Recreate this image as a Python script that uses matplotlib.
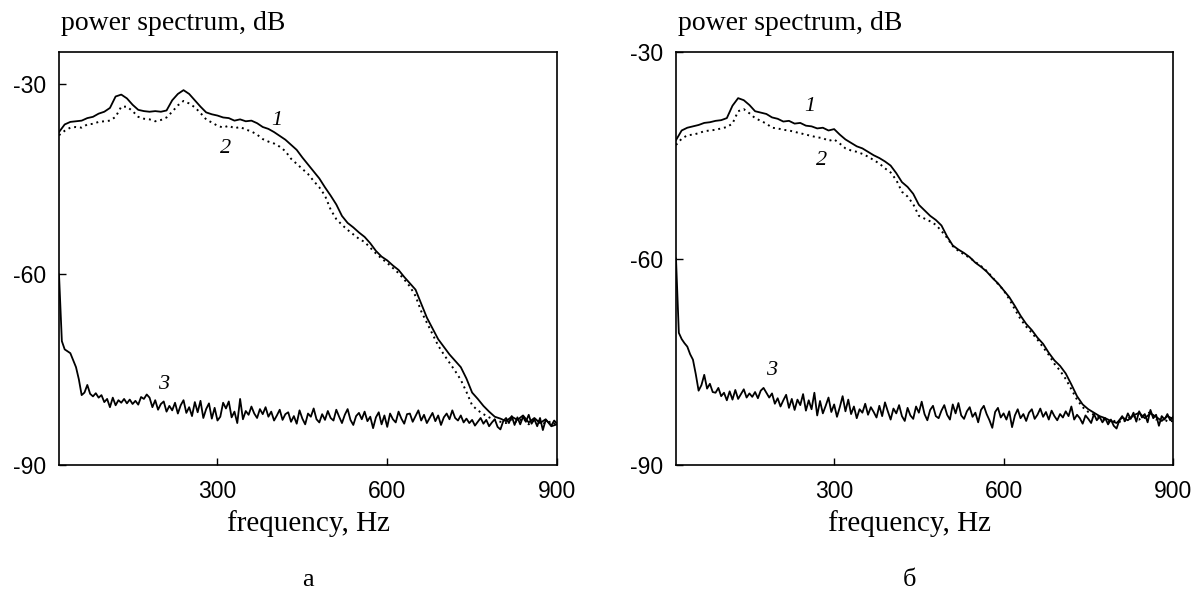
import numpy as np
import matplotlib
matplotlib.use("Agg")
import matplotlib.pyplot as plt

# Panel "a": curves 1 and 2 sampled every 10 Hz, curve 3 every 5 Hz (from 20 Hz)
a_curve1 = [-37.6, -36.4, -36.0, -35.9, -35.8, -35.4, -35.2, -34.7, -34.4, -33.8,
            -32.0, -31.7, -32.3, -33.3, -34.1, -34.3, -34.4, -34.3, -34.4, -34.2,
            -32.6, -31.6, -31.0, -31.6, -32.6, -33.6, -34.5, -34.8, -35.0, -35.3,
            -35.4, -35.8, -35.6, -35.9, -35.8, -36.2, -36.8, -37.1, -37.6, -38.2,
            -38.8, -39.6, -40.4, -41.6, -42.7, -43.8, -44.9, -46.3, -47.6, -49.0,
            -50.8, -51.9, -52.6, -53.4, -54.1, -55.1, -56.3, -57.2, -57.8, -58.6,
            -59.3, -60.4, -61.4, -62.4, -64.6, -66.8, -68.5, -70.2, -71.4, -72.6,
            -73.6, -74.6, -76.4, -78.6, -79.6, -80.7, -81.6, -82.4, -82.7, -83.1,
            -82.4, -82.9, -82.2, -83.3, -82.6, -83.4, -82.8, -83.9, -83.6]
a_curve2 = [-38.1, -37.4, -36.9, -36.8, -36.9, -36.4, -36.3, -36.0, -35.9, -35.8,
            -35.2, -33.6, -33.6, -34.3, -35.2, -35.5, -35.6, -35.9, -35.7, -35.3,
            -34.4, -33.4, -32.7, -33.1, -33.7, -34.6, -35.6, -36.1, -36.6, -36.9,
            -36.6, -37.0, -36.8, -37.2, -37.5, -38.0, -38.7, -39.1, -39.4, -39.9,
            -40.6, -41.8, -42.6, -43.4, -44.2, -45.3, -46.3, -47.6, -49.8, -51.3,
            -52.2, -53.0, -53.7, -54.4, -54.9, -55.8, -56.7, -57.5, -58.2, -59.0,
            -59.8, -60.8, -61.9, -63.4, -65.8, -67.6, -69.4, -71.2, -72.6, -73.9,
            -75.2, -76.6, -78.5, -80.6, -81.4, -82.0, -82.5, -82.9, -83.2, -83.4,
            -82.8, -83.3, -82.6, -83.6, -82.9, -83.2, -83.5, -83.1, -83.8]
a_curve3 = [-60.0, -70.5, -71.8, -72.1, -72.4, -73.5, -74.6, -76.5, -79.0, -78.6,
            -77.4, -78.8, -79.2, -78.7, -79.4, -79.0, -80.1, -79.6, -80.9, -79.4,
            -80.6, -79.8, -80.2, -79.6, -80.3, -79.7, -80.4, -79.9, -80.5, -79.3,
            -79.6, -78.9, -79.4, -80.9, -79.8, -81.3, -80.4, -80.0, -81.6, -80.7,
            -81.4, -80.2, -81.9, -80.6, -79.8, -81.8, -80.9, -82.3, -80.1, -81.7,
            -79.9, -82.6, -81.2, -80.3, -82.7, -81.0, -83.0, -82.4, -80.2, -81.1,
            -80.0, -82.5, -81.6, -83.4, -79.6, -82.8, -81.5, -82.1, -80.8, -81.9,
            -82.6, -81.2, -82.0, -80.9, -82.4, -81.6, -83.0, -82.2, -81.3, -82.9,
            -82.0, -81.7, -83.2, -82.3, -83.5, -81.4, -82.7, -83.6, -81.9, -82.4,
            -81.1, -82.8, -83.3, -82.0, -82.9, -81.5, -82.6, -83.0, -81.3, -82.4,
            -83.4, -82.1, -81.2, -82.9, -83.7, -82.3, -81.8, -82.8, -81.6, -83.1,
            -82.4, -84.2, -82.5, -81.7, -83.6, -82.2, -84.0, -81.9, -82.8, -83.3,
            -81.6, -82.7, -83.5, -82.0, -81.9, -83.2, -82.3, -81.4, -83.0, -82.1,
            -83.4, -82.6, -81.8, -83.1, -82.2, -83.7, -82.5, -81.9, -82.8, -81.4,
            -82.6, -83.0, -82.2, -83.3, -82.7, -83.4, -82.9, -83.8, -83.2, -82.6,
            -83.5, -82.9, -83.9, -83.3, -82.8, -84.0, -84.4, -83.1, -82.6, -83.4,
            -82.3, -83.7, -82.5, -83.6, -82.4, -83.2, -82.1, -83.5, -82.8, -83.9,
            -82.6, -84.5, -82.9, -83.3, -83.8, -83.0, -83.5]

# Panel "б"
b_curve1 = [-42.8, -41.4, -41.0, -40.8, -40.6, -40.3, -40.2, -40.0, -39.9, -39.6,
            -37.8, -36.7, -37.0, -37.7, -38.6, -38.8, -39.0, -39.5, -39.7, -40.1,
            -40.0, -40.4, -40.3, -40.7, -40.8, -41.1, -41.0, -41.4, -41.2, -42.0,
            -42.7, -43.2, -43.7, -44.0, -44.5, -45.0, -45.4, -45.9, -46.5, -47.6,
            -48.9, -49.6, -50.6, -52.2, -53.0, -53.8, -54.4, -55.2, -56.8, -58.1,
            -58.7, -59.2, -59.8, -60.6, -61.2, -61.9, -62.8, -63.6, -64.6, -65.6,
            -66.9, -68.3, -69.5, -70.4, -71.5, -72.4, -73.7, -74.8, -75.6, -76.7,
            -78.3, -80.0, -81.2, -81.9, -82.4, -82.9, -83.2, -83.6, -83.9, -83.1,
            -83.5, -82.8, -82.4, -83.2, -82.5, -83.0, -83.6, -82.9, -83.3]
b_curve2 = [-43.5, -42.6, -42.1, -42.0, -41.8, -41.5, -41.4, -41.3, -41.1, -40.9,
            -40.4, -38.6, -38.3, -38.9, -39.6, -40.0, -40.4, -41.0, -41.1, -41.3,
            -41.4, -41.6, -41.8, -42.0, -42.2, -42.4, -42.5, -42.9, -42.7, -43.3,
            -44.0, -44.3, -44.5, -44.8, -45.2, -45.7, -46.2, -46.9, -47.5, -48.6,
            -50.3, -51.0, -52.1, -53.8, -54.2, -54.6, -55.1, -56.0, -57.0, -58.2,
            -58.9, -59.4, -59.9, -60.5, -61.1, -61.8, -62.7, -63.7, -64.6, -65.9,
            -67.4, -68.8, -69.9, -70.8, -71.8, -72.9, -74.0, -75.3, -76.3, -77.5,
            -79.0, -80.5, -81.6, -82.3, -82.7, -83.1, -83.4, -83.8, -83.5, -83.9,
            -83.2, -82.9, -83.4, -82.7, -82.3, -83.4, -83.0, -83.7, -83.6]
b_curve3 = [-60.0, -70.8, -71.7, -72.3, -72.8, -73.9, -74.7, -76.8, -79.2, -78.4,
            -76.9, -78.9, -78.2, -79.4, -79.5, -78.8, -80.0, -79.5, -80.6, -79.3,
            -80.5, -79.1, -80.4, -79.7, -79.0, -80.2, -79.6, -80.1, -79.4, -80.3,
            -79.2, -78.8, -79.5, -80.2, -79.6, -81.1, -80.3, -81.5, -80.6, -79.8,
            -81.7, -80.4, -82.0, -80.5, -81.3, -79.7, -82.1, -80.6, -81.9, -79.5,
            -82.8, -80.7, -82.5, -81.4, -80.2, -82.3, -81.2, -83.0, -81.6, -80.0,
            -82.2, -80.5, -82.6, -81.5, -83.2, -81.9, -82.4, -81.1, -82.7, -81.6,
            -82.3, -83.1, -81.4, -82.9, -80.9, -82.2, -83.4, -81.8, -82.5, -81.3,
            -82.9, -83.6, -81.7, -82.8, -83.3, -81.5, -82.4, -80.8, -82.6, -83.5,
            -82.0, -81.4, -82.9, -83.2, -82.1, -81.3, -82.7, -83.4, -81.2, -82.5,
            -81.0, -82.8, -83.3, -82.2, -81.6, -83.0, -82.4, -83.8, -82.0, -81.4,
            -82.6, -83.5, -84.6, -82.3, -81.7, -83.1, -82.5, -83.4, -82.2, -84.5,
            -82.8, -81.9, -83.2, -82.6, -83.6, -82.4, -81.9, -83.3, -82.7, -81.8,
            -83.0, -82.3, -83.4, -82.1, -82.9, -83.5, -82.6, -83.1, -82.2, -82.9,
            -81.5, -83.4, -82.7, -83.2, -84.0, -82.8, -83.3, -83.9, -82.6, -83.5,
            -83.0, -83.8, -83.2, -84.1, -83.4, -84.3, -84.7, -83.5, -82.9, -83.6,
            -82.5, -83.3, -82.4, -83.7, -82.2, -83.1, -82.6, -83.8, -82.0, -83.2,
            -82.7, -84.3, -82.9, -83.4, -82.6, -83.5, -83.0]

x_ticks = [300, 600, 900]
y_ticks = [-30, -60, -90]
panel_names = ["а", "б"]
ylims = [(-90, -25), (-90, -30)]
# curve number label positions (frequency, dB) for each panel
label_pos = [
    {"1": (404, -35.8), "2": (315, -40.2), "3": (205, -77.3)},
    {"1": (256, -37.9), "2": (278, -45.7), "3": (190, -76.3)},
]
# horizontal centre of the bottom texts, figure fraction
bottom_text_x = [0.2563, 0.757]

plt.rcParams["font.family"] = ["Liberation Sans", "DejaVu Sans"]
serif = ["Liberation Serif", "DejaVu Serif"]

fig = plt.figure(figsize=(12.02, 6.0), dpi=100)
axes = [fig.add_axes([0.0491, 0.225, 0.4143, 0.6883]),
        fig.add_axes([0.5624, 0.225, 0.4135, 0.6883])]

panels = [(a_curve1, a_curve2, a_curve3), (b_curve1, b_curve2, b_curve3)]

for i, ax in enumerate(axes):
    c1, c2, c3 = panels[i]
    f10 = 20 + 10 * np.arange(len(c1))
    f10b = 20 + 10 * np.arange(len(c2))
    f5 = 20 + 5 * np.arange(len(c3))
    ax.plot(f10, c1, color="black", lw=1.3)
    ax.plot(f10b, c2, color="black", lw=1.4, ls=(0, (1, 2)))
    ax.plot(f5, c3, color="black", lw=1.3)

    ax.set_xlim(20, 900)
    ax.set_ylim(*ylims[i])
    ax.set_xticks(x_ticks)
    ax.set_yticks(y_ticks)
    ax.set_xticklabels([str(t) for t in x_ticks])
    ax.set_yticklabels([str(t) for t in y_ticks])
    ax.tick_params(direction="in", length=5, width=1.0, labelsize=16.5)
    ax.tick_params(axis="x", pad=11)
    ax.tick_params(axis="y", pad=9)
    for s in ax.spines.values():
        s.set_linewidth(1.2)

    for name, (fx, fy) in label_pos[i].items():
        ax.text(fx, fy, name, family=serif, style="italic", fontsize=16,
                ha="center", va="center")

    pos = ax.get_position()
    fig.text(pos.x0 + 0.002, 0.95, "power spectrum, dB", family=serif,
             fontsize=20, ha="left", va="baseline")
    fig.text(bottom_text_x[i], 0.128, "frequency, Hz", family=serif,
             fontsize=21, ha="center", va="center")
    fig.text(bottom_text_x[i], 0.033, panel_names[i], family=serif,
             fontsize=19, ha="center", va="center")

fig.savefig("out.png", dpi=100)
